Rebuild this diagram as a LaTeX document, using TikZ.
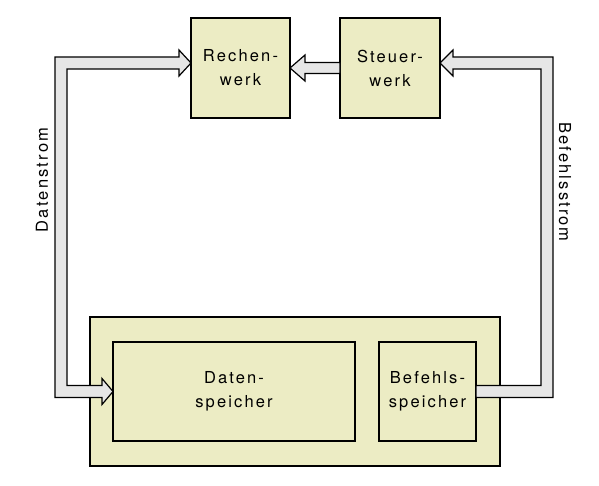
\documentclass[tikz,border=0pt]{standalone}
\usepackage{fontspec}
\usepackage{xcolor}
\usepackage{tikz}
\usetikzlibrary{calc}
\newfontfamily\blockfont{TeX Gyre Heros}[LetterSpace=13]
\definecolor{boxfill}{HTML}{ECECC4}
\definecolor{streamfill}{HTML}{E6E6E6}
\tikzset{
block/.style = {rectangle, draw=black, fill=boxfill, line width=1.2pt,
                inner sep=0pt, outer sep=0pt, align=center,
                font=\blockfont\fontsize{16.5pt}{24pt}\selectfont},
stream/.style = {draw=black, fill=streamfill, line width=1.2pt,
                 line join=miter}, % fat hollow arrow
streamlabel/.style = {font=\blockfont\fontsize{16.5pt}{20pt}\selectfont}
}

\begin{document}
\begin{tikzpicture}[x=1pt,y=-1pt]
\useasboundingbox (0,0) rectangle (599,486);

\node[block, minimum width=410pt, minimum height=149pt] (speicher) at (295,391.5) {};
\node[block, minimum width=99pt, minimum height=100pt] (rechen) at (240.5,68) {Rechen-\\werk};
\node[block, minimum width=100pt, minimum height=100pt] (steuer) at (390,68) {Steuer-\\werk};
\node[block, minimum width=242pt, minimum height=99pt] (datsp) at (234,391.5) {Daten-\\speicher};
\node[block, minimum width=97pt, minimum height=99pt] (befsp) at (427.5,391.5) {Befehls-\\speicher};

\node[streamlabel, rotate=90] (datlab) at (42,180) {Datenstrom};
\node[streamlabel, rotate=-90] (beflab) at (565,182) {Befehlsstrom};

% Datenstrom: Rechenwerk <-> Datenspeicher
\draw[stream] ($(rechen.west)+(0,-5)$) -- ++(-12,-13) -- ++(0,7) -- ++(-124,0)
  -- ++(0,340.5) -- ++(47,0) -- ++(0,7) -- (datsp.west) -- ++(-11,-13)
  -- ++(0,7) -- ++(-35,0) -- ++(0,-316.5) -- ++(112,0) -- ++(0,7) -- cycle;
% Befehlsstrom: Befehlsspeicher -> Steuerwerk
\draw[stream] ($(befsp.east)+(0,-6)$) -- ++(65,0) -- ++(0,-316.5) -- ++(-88,0)
  -- ++(0,7) -- ($(steuer.east)+(0,-5)$) -- ++(13,-13) -- ++(0,7) -- ++(100,0)
  -- ++(0,340.5) -- ++(-77,0) -- cycle;
% Steuerwerk -> Rechenwerk
\draw[stream] ($(steuer.west)+(0,-5.5)$) -- ++(-35,0) -- ++(0,-7.5) -- (rechen.east)
  -- ++(15,13) -- ++(0,-7.5) -- ++(35,0) -- cycle;
\end{tikzpicture}
\end{document}
